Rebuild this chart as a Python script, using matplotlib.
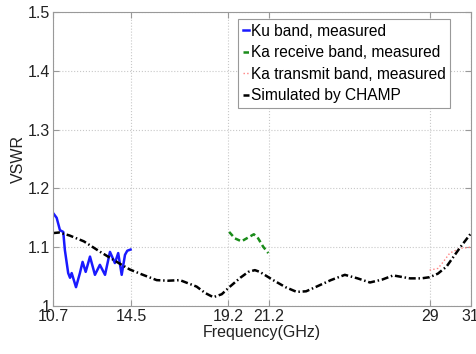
import numpy as np
import matplotlib
matplotlib.use("Agg")
from matplotlib import pyplot as plt

# Ku band, measured
ku_f = [10.71, 10.88, 11.04, 11.20, 11.28, 11.44, 11.53, 11.61, 11.82, 12.01, 12.14, 12.29,
        12.50, 12.74, 12.98, 13.23, 13.47, 13.71, 13.87, 14.04, 14.20, 14.31, 14.47]
ku_v = [1.158, 1.150, 1.129, 1.126, 1.095, 1.056, 1.048, 1.056, 1.032, 1.056, 1.075, 1.058,
        1.084, 1.053, 1.070, 1.053, 1.092, 1.073, 1.090, 1.053, 1.087, 1.094, 1.096]

# Ka receive band, measured
kar_f = [19.26, 19.54, 19.86, 20.11, 20.46, 20.67, 20.91, 21.16]
kar_v = [1.126, 1.115, 1.110, 1.115, 1.122, 1.115, 1.101, 1.090]

# Ka transmit band, measured
kat_f = [29.0, 29.41, 29.66, 29.98, 30.47, 31.0]
kat_v = [1.061, 1.064, 1.075, 1.090, 1.098, 1.100]

# Simulated by CHAMP
sim_f = [10.7, 11.0, 11.5, 12.2, 13.0, 14.04, 14.44, 15.0, 15.74, 16.3, 16.87, 17.68, 18.1,
         18.49, 18.9, 19.30, 19.8, 20.19, 20.51, 20.75, 21.40, 22.0, 22.54, 23.0, 23.51, 24.2,
         24.88, 25.5, 26.10, 26.7, 27.23, 28.04, 28.6, 29.0, 29.4, 29.82, 30.47, 30.95, 31.0]
sim_v = [1.124, 1.125, 1.120, 1.110, 1.092, 1.070, 1.062, 1.054, 1.044, 1.043, 1.044, 1.033,
         1.022, 1.015, 1.020, 1.033, 1.048, 1.058, 1.061, 1.058, 1.044, 1.032, 1.024, 1.025,
         1.033, 1.044, 1.053, 1.047, 1.040, 1.045, 1.052, 1.047, 1.047, 1.049, 1.055, 1.067,
         1.099, 1.121, 1.123]

xticks = [10.7, 14.5, 19.2, 21.2, 29, 31]
xticklabels = ["10.7", "14.5", "19.2", "21.2", "29", "31"]
yticks = [1, 1.1, 1.2, 1.3, 1.4, 1.5]
yticklabels = ["1", "1.1", "1.2", "1.3", "1.4", "1.5"]

plt.rcParams['font.family'] = ['Liberation Sans', 'DejaVu Sans']

fig = plt.figure(figsize=(4.77, 3.54), dpi=100)
ax = fig.add_axes([0.111, 0.1356, 0.876, 0.8304])

ax.plot(ku_f, ku_v, color="#1a1aff", lw=1.8, label="Ku band, measured")
ax.plot(kar_f, kar_v, color="#1a8c1a", lw=1.8, ls="--", dashes=(2.2, 1.3),
        label="Ka receive band, measured")
ax.plot(kat_f, kat_v, color="#ff8080", lw=1.0, ls=":", label="Ka transmit band, measured")
ax.plot(sim_f, sim_v, color="black", lw=1.8, dashes=(2.8, 1.1, 0.6, 1.1),
        label="Simulated by CHAMP")

ax.set_xlim(10.7, 31)
ax.set_ylim(1, 1.5)
ax.set_xticks(xticks)
ax.set_xticklabels(xticklabels)
ax.set_yticks(yticks)
ax.set_yticklabels(yticklabels)
ax.grid(True, color="#c8c8c8", ls=":", lw=0.8)
ax.tick_params(direction="in", top=True, right=True, labelsize=11.5, color="#999999",
               length=4, pad=2, labelcolor="#222222")
for s in ax.spines.values():
    s.set_color("#999999")

ax.set_xlabel("Frequency(GHz)", fontsize=11.5, labelpad=1, color="#222222")
ax.set_ylabel("VSWR", fontsize=11.5, labelpad=1, color="#222222")

leg = ax.legend(loc="upper right", bbox_to_anchor=(0.958, 0.987), fontsize=11.2,
                handlelength=0.4, handletextpad=0.1, borderpad=0.3, labelspacing=0.42,
                fancybox=False, framealpha=1, borderaxespad=0.2)
leg.get_frame().set_edgecolor("#999999")
leg.get_frame().set_linewidth(0.8)

fig.savefig("out.png", dpi=100)
